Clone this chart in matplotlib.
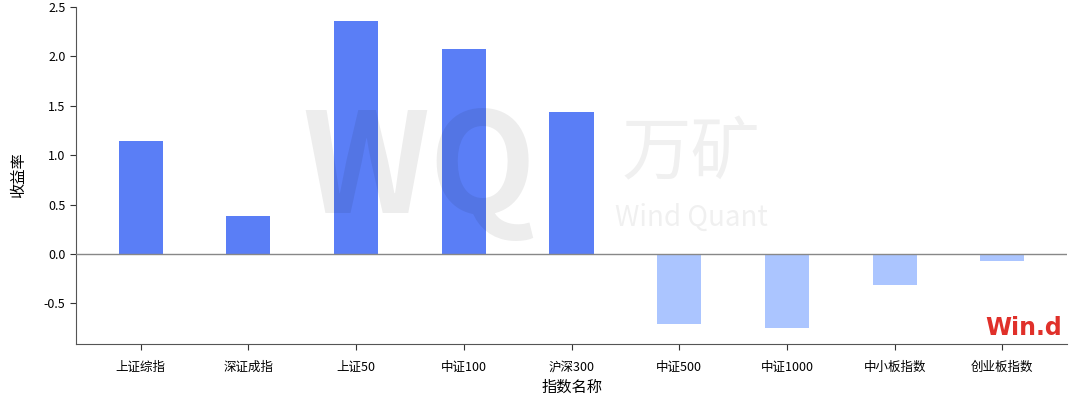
import matplotlib
matplotlib.use("Agg")
import matplotlib.pyplot as plt
import numpy as np

plt.rcParams['font.family'] = ['Noto Sans CJK SC', 'DejaVu Sans']
plt.rcParams['axes.unicode_minus'] = False

# 数据
names = ['上证综指', '深证成指', '上证50', '中证100', '沪深300',
         '中证500', '中证1000', '中小板指数', '创业板指数']
returns = [1.14, 0.385, 2.36, 2.07, 1.44, -0.71, -0.75, -0.31, -0.07]

pos_color = '#5a7ef6'
neg_color = '#abc5ff'

fig = plt.figure(figsize=(10.8, 4.07), dpi=100)
ax = fig.add_axes([0.0704, 0.1548, 0.9176, 0.828])

x = np.arange(len(names))
colors = [pos_color if r >= 0 else neg_color for r in returns]
ax.bar(x, returns, width=0.41, color=colors, zorder=2)
ax.axhline(0, color='#888888', linewidth=1, zorder=3)

ax.set_xlim(-0.6, 8.6)
ax.set_ylim(-0.91, 2.5)
ax.set_yticks([-0.5, 0.0, 0.5, 1.0, 1.5, 2.0, 2.5])
ax.set_xticks(x)
ax.set_xticklabels(names, fontsize=9)
ax.tick_params(axis='y', labelsize=9, length=4, color='#333333')
ax.tick_params(axis='x', length=4, color='#333333', pad=8)

for s in ['top', 'right']:
    ax.spines[s].set_visible(False)
for s in ['left', 'bottom']:
    ax.spines[s].set_color('#555555')

ax.set_xlabel('指数名称', fontsize=11)
ax.set_ylabel('收益率', fontsize=11, labelpad=12)

# 水印
fig.text(0.388, 0.575, 'WQ', fontsize=100, fontweight='bold', color='black',
         alpha=0.07, ha='center', va='center', zorder=10)
fig.text(0.64, 0.62, '万矿', fontsize=50, color='black', alpha=0.06,
         ha='center', va='center', zorder=10)
fig.text(0.64, 0.465, 'Wind Quant', fontsize=20, color='black', alpha=0.06,
         ha='center', va='center', zorder=10)

# Wind logo
fig.text(0.983, 0.195, 'Win.d', fontsize=17, fontweight='bold', color='#e0302a',
         ha='right', va='center', family='DejaVu Sans')

fig.savefig('out.png', dpi=100)
